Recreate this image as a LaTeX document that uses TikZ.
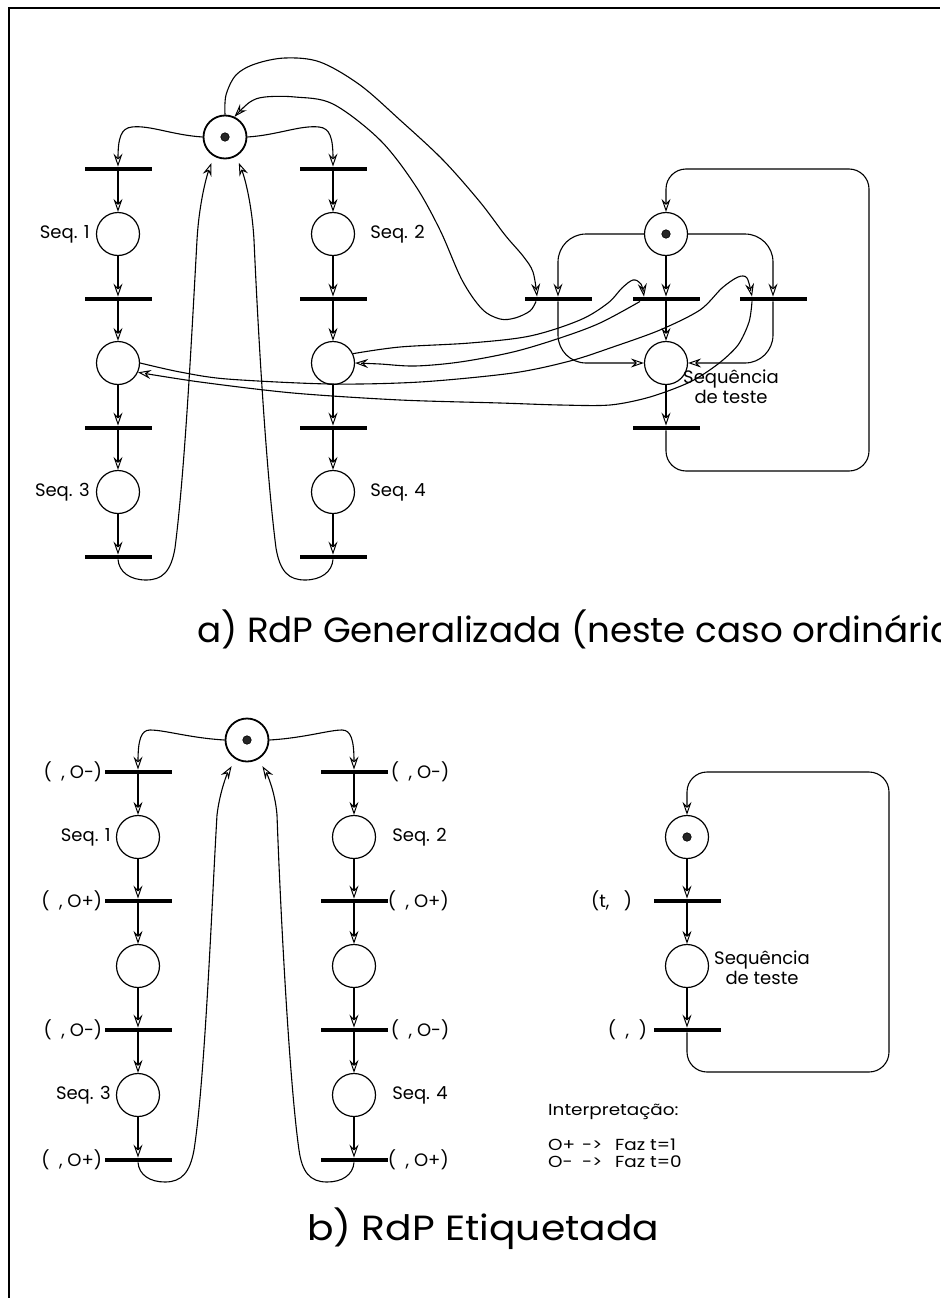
\documentclass[tikz,border=0pt]{standalone}
\usepackage{fontspec}
\setmainfont{Poppins}
\usetikzlibrary{arrows.meta,calc}

\begin{document}
\begin{tikzpicture}[x=1pt,y=-1pt,
  pl/.style={circle,draw,line width=1.2pt,minimum size=43pt,inner sep=0pt},
  initpl/.style={pl,line width=1.8pt},
  tok/.style={circle,fill=black!85,draw=black,line width=0.6pt,minimum size=8.5pt,inner sep=0pt},
  tbar/.style={rectangle,fill=black,minimum width=67pt,minimum height=4.5pt,inner sep=0pt},
  flow/.style={line width=1.1pt,-{Stealth[open,length=13pt,width=9pt,inset=4.5pt,line width=1pt]}},
  lbl/.style={inner sep=0pt,font=\fontsize{18}{20}\selectfont},
  note/.style={inner sep=0pt,font=\fontsize{16}{18}\selectfont\addfontfeature{FakeStretch=1.15}},
  ttla/.style={inner sep=0pt,font=\fontsize{35}{40}\selectfont\addfontfeature{FakeStretch=1.02}},
  ttlb/.style={inner sep=0pt,font=\fontsize{35}{40}\selectfont\addfontfeature{FakeStretch=1.12}},
]
\useasboundingbox (0,0) rectangle (940,1298);
\clip (0,0) rectangle (940,1298);

% frame
\draw[line width=2pt] (9,1298) -- (9,8) -- (940,8);

% ===================== a) generalised net =====================
\node[initpl] (P0a) at (225,137) {};
\node[tok] (k0a) at (P0a) {};

\foreach \c/\x in {A/118,B/333}{
  \node[tbar] (T\c1) at (\x,169) {};
  \node[pl]   (\c1)  at (\x,234) {};
  \node[tbar] (T\c2) at (\x,299) {};
  \node[pl]   (\c2)  at (\x,363) {};
  \node[tbar] (T\c3) at (\x,428) {};
  \node[pl]   (\c3)  at (\x,492) {};
  \node[tbar] (T\c4) at (\x,557) {};
  \draw[flow] (T\c1) -- (\c1);
  \draw[flow] (\c1) -- (T\c2);
  \draw[flow] (T\c2) -- (\c2);
  \draw[flow] (\c2) -- (T\c3);
  \draw[flow] (T\c3) -- (\c3);
  \draw[flow] (\c3) -- (T\c4);
}

% test sequence
\node[pl]   (PT) at (666,234) {};
\node[tok]  (kT) at (PT) {};
\node[tbar] (Ta) at (558,299) {};
\node[tbar] (Tb) at (666,299) {};
\node[tbar] (Tc) at (773,299) {};
\node[pl]   (PS) at (666,363) {};
\node[tbar] (Td) at (666,428) {};

\node[lbl,anchor=east] (LA1) at ([xshift=-6pt]A1.west) {Seq. 1};
\node[lbl,anchor=west] (LB1) at ([xshift=15pt]B1.east) {Seq. 2};
\node[lbl,anchor=east] (LA3) at ([xshift=-6pt]A3.west) {Seq. 3};
\node[lbl,anchor=west] (LB3) at ([xshift=15pt]B3.east) {Seq. 4};
\node[lbl,align=center] (LS) at (731,387) {Sequência\\de teste};

% initial place to both sequences
\draw[flow] (P0a.west) .. controls (172,135) and (150,125) .. (132,127)
            .. controls (121,128) and (118,138) .. (TA1.north);
\draw[flow] (P0a.east) .. controls (278,135) and (300,125) .. (319,127)
            .. controls (330,128) and (333,138) .. (TB1.north);

% returns from the last transitions
\draw[flow,shorten >=7pt] (TA4.south) .. controls (119,572) and (130,580) .. (146,580)
            .. controls (162,580) and (171,572) .. (175,548)
            .. controls (185,470) and (192,330) .. (197,240)
            .. controls (199,205) and (206,178) .. (P0a.240);
\draw[flow,shorten >=7pt] (TB4.south) .. controls (332,572) and (321,580) .. (305,580)
            .. controls (289,580) and (280,572) .. (276,548)
            .. controls (266,470) and (258,330) .. (254,240)
            .. controls (252,205) and (245,178) .. (P0a.-60);

% self loop of the initial place through Ta
\draw[flow] plot[smooth,tension=0.55] coordinates {(P0a.north) (226,95) (236,75) (255,64) (285,58)
   (320,62) (360,85) (400,120) (443,160) (480,202) (505,235) (523,256) (533,272)
   ([xshift=-21pt]Ta.north)};
\draw[flow] plot[smooth,tension=0.55] coordinates {([xshift=-22pt]Ta.south) (530,311) (515,318)
   (500,319) (482,309) (462,280) (440,230) (415,185) (380,140) (333,104) (295,97)
   (265,97) (250,102) (P0a.65)};

% test sequence arcs
\draw[flow,rounded corners=28pt] (PT.west) -- (PT.west -| Ta.north) -- (Ta.north);
\draw[flow,rounded corners=28pt] (Ta.south) -- (Ta.south |- PS.west) -- (PS.west);
\draw[flow,rounded corners=28pt] (PT.east) -- (PT.east -| Tc.north) -- (Tc.north);
\draw[flow,rounded corners=28pt] (Tc.south) -- (Tc.south |- PS.east) -- (PS.east);
\draw[flow] (PT) -- (Tb);
\draw[flow] (Tb) -- (PS);
\draw[flow] (PS) -- (Td);
\draw[flow,rounded corners=20pt] (Td.south) |- (869,471) -- (869,169) -| (PT.north);

% links between the sequences and the test
\draw[flow] plot[smooth,tension=0.55] coordinates {(B2.25) (400,347) (470,343) (530,336)
   (580,320) (608,303) (622,288) (633,280) (641,284) ([xshift=-22pt]Tb.north)};
\draw[flow] plot[smooth,tension=0.55] coordinates {([xshift=-26pt]Tb.south) (600,323) (560,338)
   (513,352) (460,362) (415,366) (380,364) (B2.east)};
\draw[flow] plot[smooth,tension=0.5] coordinates {(A2.east) (180,372) (227,379) (330,384)
   (420,382) (513,373) (570,361) (613,347) (660,330) (700,310) (722,288) (738,277)
   (747,278) ([xshift=-21pt]Tc.north)};
\draw[flow] plot[smooth,tension=0.5] coordinates {([xshift=-21pt]Tc.south) (749,322) (738,345)
   (718,364) (690,382) (650,397) (610,405) (560,405) (500,403) (400,400) (293,393)
   (200,382) (A2.-25)};

\node[ttla,anchor=base west] (TitA) at (197,642) {a) RdP Generalizada (neste caso ordinária)};

% ===================== b) labelled net =====================
\node[initpl] (P0b) at (247,740) {};
\node[tok] (k0b) at (P0b) {};

\foreach \c/\x in {C/138,D/354}{
  \node[tbar] (T\c1) at (\x,772) {};
  \node[pl]   (\c1)  at (\x,837) {};
  \node[tbar] (T\c2) at (\x,901) {};
  \node[pl]   (\c2)  at (\x,966) {};
  \node[tbar] (T\c3) at (\x,1030) {};
  \node[pl]   (\c3)  at (\x,1095) {};
  \node[tbar] (T\c4) at (\x,1160) {};
  \draw[flow] (T\c1) -- (\c1);
  \draw[flow] (\c1) -- (T\c2);
  \draw[flow] (T\c2) -- (\c2);
  \draw[flow] (\c2) -- (T\c3);
  \draw[flow] (T\c3) -- (\c3);
  \draw[flow] (\c3) -- (T\c4);
}

\node[lbl,anchor=east] (LC1) at ([xshift=-5pt]C1.west) {Seq. 1};
\node[lbl,anchor=west] (LD1) at ([xshift=16pt]D1.east) {Seq. 2};
\node[lbl,anchor=east] (LC3) at ([xshift=-5pt]C3.west) {Seq. 3};
\node[lbl,anchor=west] (LD3) at ([xshift=16pt]D3.east) {Seq. 4};

\node[lbl,anchor=east] (LTC1) at ([xshift=-2pt]TC1.west) {(\ \ , O-)};
\node[lbl,anchor=east] (LTC2) at ([xshift=-2pt]TC2.west) {(\ \ , O+)};
\node[lbl,anchor=east] (LTC3) at ([xshift=-2pt]TC3.west) {(\ \ , O-)};
\node[lbl,anchor=east] (LTC4) at ([xshift=-2pt]TC4.west) {(\ \ , O+)};
\node[lbl,anchor=west] (LTD1) at ([xshift=3pt]TD1.east) {(\ \ , O-)};
\node[lbl,anchor=west] (LTD2) at ([xshift=0pt]TD2.east) {(\ \ , O+)};
\node[lbl,anchor=west] (LTD3) at ([xshift=3pt]TD3.east) {(\ \ , O-)};
\node[lbl,anchor=west] (LTD4) at ([xshift=0pt]TD4.east) {(\ \ , O+)};

\draw[flow] (P0b.west) .. controls (190,738) and (165,730) .. (150,730)
            .. controls (141,730) and (138,740) .. (TC1.north);
\draw[flow] (P0b.east) .. controls (304,738) and (329,730) .. (342,730)
            .. controls (351,730) and (354,740) .. (TD1.north);

\draw[flow,shorten >=8pt] (TC4.south) .. controls (139,1175) and (150,1182) .. (165,1182)
            .. controls (182,1182) and (190,1172) .. (194,1150)
            .. controls (205,1080) and (212,900) .. (217,815)
            .. controls (220,790) and (228,772) .. (P0b.240);
\draw[flow,shorten >=8pt] (TD4.south) .. controls (353,1175) and (342,1182) .. (327,1182)
            .. controls (310,1182) and (302,1172) .. (299,1150)
            .. controls (289,1080) and (280,900) .. (277,815)
            .. controls (275,790) and (266,772) .. (P0b.-60);

% test sequence, labelled
\node[pl]   (Q1) at (687,837) {};
\node[tok]  (kQ) at (Q1) {};
\node[tbar] (U1) at (687,901) {};
\node[pl]   (Q2) at (687,966) {};
\node[tbar] (U2) at (687,1030) {};
\draw[flow] (Q1) -- (U1);
\draw[flow] (U1) -- (Q2);
\draw[flow] (Q2) -- (U2);
\draw[flow,rounded corners=20pt] (U2.south) |- (889,1072) -- (889,772) -| (Q1.north);

\node[lbl,anchor=east] (LU1) at ([xshift=-21pt]U1.west) {(t,\ \ \ )};
\node[lbl,anchor=east] (LU2) at ([xshift=-6pt]U2.west) {(\ \ ,\ \ )};
\node[lbl,align=center] (LQ) at (762,968) {Sequência\\de teste};

\node[note,anchor=base west] (I0) at (548,1115) {Interpretação:};
\node[note,anchor=base west] (I1) at (548,1150) {\makebox[34pt][l]{O+}\makebox[33pt][l]{->}Faz t=1};
\node[note,anchor=base west] (I2) at (548,1167) {\makebox[34pt][l]{O-}\makebox[33pt][l]{->}Faz t=0};

\node[ttlb,anchor=base west] (TitB) at (307,1240) {b) RdP Etiquetada};
\end{tikzpicture}
\end{document}
